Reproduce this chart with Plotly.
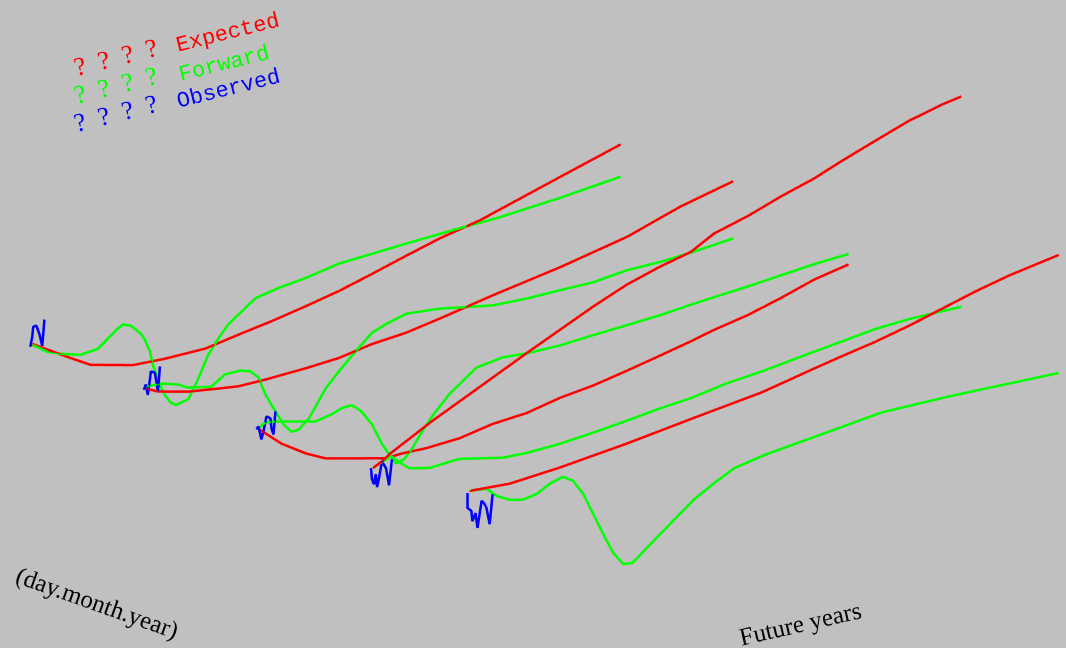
import plotly.graph_objects as go

# slice dates (position along the date axis, in years) and their labels
slice_dates = ["31.12.1999", "31.12.2000", "31.12.2001", "31.12.2002", "08.11.2003"]
slice_pos = [0.0, 1.0, 2.0, 3.0, 3.85]

# slice 1
exp_t1 = [0, 1.79, 2.97, 5.13, 6.72, 8.82, 10.51, 12.21, 13.95, 15.64, 17.33, 19.08, 20.77, 22.82, 26.92, 30.0]
exp_r1 = [4.95, 4.41, 4.07, 3.80, 3.76, 3.76, 3.90, 4.03, 4.19, 4.36, 4.58, 4.82, 5.04, 5.24, 5.82, 6.25]
fwd_t1 = [0, 0.77, 1.44, 2.46, 3.33, 3.85, 4.36, 4.62, 5.03, 5.54, 5.74, 6.0, 6.15, 6.41, 6.67, 7.03,
          7.33, 7.95, 8.46, 8.97, 9.49, 10.0, 11.38, 12.56, 13.95, 15.64, 17.33, 19.08, 21.79, 23.69, 26.92, 30.0]
fwd_r1 = [4.93, 4.66, 4.53, 4.38, 4.42, 4.61, 4.80, 4.87, 4.79, 4.53, 4.36, 4.03, 3.68, 3.30, 2.94, 2.65,
          2.54, 2.61, 3.05, 3.59, 3.93, 4.22, 4.70, 4.81, 4.89, 5.04, 5.08, 5.12, 5.17, 5.19, 5.30, 5.45]
obs_t1 = [-0.10, 0.0, 0.05, 0.21, 0.36, 0.51, 0.62]
obs_r1 = [4.89, 5.13, 5.37, 5.38, 5.16, 4.84, 5.48]

# slice 2
exp_t2 = [0, 0.62, 2.15, 3.69, 4.72, 6.10, 8.15, 9.85, 11.54, 13.28, 14.97, 17.69, 21.13, 24.56, 26.10, 27.28, 29.95]
exp_r2 = [4.83, 4.68, 4.49, 4.38, 4.31, 4.31, 4.34, 4.39, 4.53, 4.60, 4.74, 4.99, 5.27, 5.61, 5.85, 6.03, 6.33]
fwd_t2 = [0, 0.77, 1.64, 2.15, 3.33, 4.05, 4.82, 5.33, 5.74, 6.10, 6.62, 7.03, 7.44, 7.79, 8.31, 9.18,
          9.85, 10.72, 11.54, 12.26, 13.28, 14.97, 17.69, 19.44, 21.13, 22.82, 24.56, 26.26, 27.79, 29.95]
fwd_r2 = [4.88, 4.86, 4.73, 4.59, 4.47, 4.69, 4.69, 4.61, 4.41, 3.94, 3.45, 3.08, 2.85, 2.86, 3.07, 3.72,
          4.06, 4.46, 4.81, 4.94, 5.07, 4.99, 4.74, 4.70, 4.70, 4.69, 4.78, 4.78, 4.82, 4.91]
obs_t2 = [-0.10, 0.0, 0.10, 0.21, 0.26, 0.46, 0.62, 0.72]
obs_r2 = [4.81, 4.93, 4.66, 5.03, 5.22, 5.17, 4.68, 5.29]

# slice 3
exp_t3 = [0, 1.13, 2.36, 3.38, 6.46, 7.28, 8.51, 10.21, 11.90, 13.64, 15.33, 17.03, 18.77, 20.46, 22.0,
          23.18, 24.92, 26.62, 28.31, 30.05]
exp_r3 = [4.80, 4.31, 3.92, 3.67, 3.30, 3.32, 3.30, 3.34, 3.49, 3.55, 3.72, 3.82, 3.98, 4.15, 4.31,
          4.45, 4.61, 4.83, 5.08, 5.24]
fwd_t3 = [0, 0.31, 0.82, 2.87, 3.69, 4.21, 4.72, 5.18, 5.74, 6.26, 6.62, 6.97, 7.38, 7.79, 8.31, 8.82,
          9.69, 11.08, 12.41, 13.64, 15.33, 17.03, 18.77, 20.46, 22.0, 24.92, 28.31, 30.05]
fwd_r3 = [4.85, 4.94, 4.90, 4.65, 4.73, 4.82, 4.83, 4.63, 4.23, 3.67, 3.38, 3.11, 3.16, 3.38, 3.75, 4.06,
          4.50, 4.99, 5.08, 5.03, 5.02, 5.07, 5.11, 5.15, 5.22, 5.32, 5.46, 5.50]
obs_t3 = [-0.15, -0.05, 0.05, 0.10, 0.21, 0.36, 0.56, 0.62, 0.72, 0.82]
obs_r3 = [4.82, 4.88, 4.67, 4.54, 4.73, 5.08, 5.01, 4.75, 4.59, 5.15]

# slice 4
exp_t4 = [0, 0.46, 0.92, 3.03, 4.92, 7.85, 9.54, 11.23, 12.97, 14.67, 16.21, 17.38, 19.13, 20.82, 22.51,
          23.90, 25.59, 27.33, 29.03, 30.0]
exp_r4 = [4.83, 4.94, 5.09, 5.63, 6.06, 6.73, 7.10, 7.47, 7.81, 8.05, 8.22, 8.53, 8.76, 9.04, 9.28,
          9.54, 9.83, 10.12, 10.32, 10.40]
fwd_t4 = [0, 0.92, 1.49, 1.85, 2.87, 4.41, 6.62, 7.85, 9.54, 11.23, 12.97, 14.67, 16.21, 18.10, 19.79,
          21.85, 23.90, 25.59, 27.33, 28.87, 30.0]
fwd_r4 = [4.83, 5.01, 4.75, 4.60, 4.48, 4.52, 4.28, 4.25, 4.27, 4.34, 4.43, 4.53, 4.59, 4.74, 4.81,
          4.94, 5.06, 5.16, 5.20, 5.19, 5.18]
obs_t4 = [-0.10, -0.05, 0.05, 0.15, 0.21, 0.31, 0.46, 0.67, 0.82, 0.97]
obs_r4 = [4.84, 4.56, 4.42, 4.66, 4.33, 4.54, 4.94, 4.74, 4.30, 4.93]

# slice 5
exp_t5 = [0, 0.87, 2.05, 4.62, 8.05, 11.44, 14.87, 15.90, 17.59, 18.97, 20.67, 22.41, 24.10, 25.79, 27.54, 30.05]
exp_r5 = [5.10, 5.07, 5.03, 5.12, 5.30, 5.52, 5.73, 5.83, 6.00, 6.13, 6.28, 6.47, 6.69, 6.91, 7.10, 7.30]
fwd_t5 = [0, 0.87, 1.38, 2.05, 2.72, 3.44, 4.10, 4.77, 5.28, 5.79, 6.31, 6.82, 7.33, 7.85, 8.31, 9.74,
          11.44, 12.46, 13.49, 15.03, 17.59, 21.03, 24.46, 27.85, 30.05]
fwd_r5 = [5.10, 5.05, 4.81, 4.63, 4.55, 4.61, 4.78, 4.87, 4.71, 4.33, 3.76, 3.20, 2.67, 2.33, 2.30, 2.85,
          3.49, 3.77, 4.02, 4.16, 4.30, 4.49, 4.47, 4.41, 4.37]
obs_t5 = [-0.10, -0.10, 0.10, 0.15, 0.31, 0.41, 0.62, 0.77, 0.87, 1.03, 1.18]
obs_r5 = [5.06, 4.69, 4.59, 4.33, 4.51, 4.13, 4.78, 4.68, 4.57, 4.15, 4.88]

expected = [(exp_t1, exp_r1), (exp_t2, exp_r2), (exp_t3, exp_r3), (exp_t4, exp_r4), (exp_t5, exp_r5)]
forward = [(fwd_t1, fwd_r1), (fwd_t2, fwd_r2), (fwd_t3, fwd_r3), (fwd_t4, fwd_r4), (fwd_t5, fwd_r5)]
observed = [(obs_t1, obs_r1), (obs_t2, obs_r2), (obs_t3, obs_r3), (obs_t4, obs_r4), (obs_t5, obs_r5)]

RED = "#ff0000"
GREEN = "#00ff00"
BLUE = "#0000ff"
BG = "#c0c0c0"

fig = go.Figure()


def add_line(pos, t, r, color, name):
    fig.add_trace(
        go.Scatter3d(
            x=[pos] * len(t),
            y=t,
            z=r,
            mode="lines",
            line=dict(color=color, width=5),
            name=name,
            showlegend=False,
            hoverinfo="skip"
        )
    )


for i, pos in enumerate(slice_pos):
    add_line(pos, expected[i][0], expected[i][1], RED, "Expected " + slice_dates[i])
    add_line(pos, forward[i][0], forward[i][1], GREEN, "Forward " + slice_dates[i])
    add_line(pos, observed[i][0], observed[i][1], BLUE, "Observed " + slice_dates[i])

hidden = dict(visible=False, showgrid=False, zeroline=False, showspikes=False)

# view direction chosen so the years axis climbs ~14 deg and the date axis falls ~19 deg
eye_dir = (0.730, -0.617, 0.296)
eye_len = 4.0
# orthographic zoom is set through the aspect ratio
zoom = 2.74

fig.update_layout(
    width=1066,
    height=648,
    margin=dict(l=0, r=0, t=0, b=0),
    paper_bgcolor=BG,
    plot_bgcolor=BG,
    showlegend=False,
    scene=dict(
        domain=dict(x=[0.0226, 1.0], y=[0.1034, 1.0]),
        bgcolor=BG,
        xaxis=dict(range=[-0.05, 3.9], **hidden),
        yaxis=dict(range=[-0.5, 30.5], **hidden),
        zaxis=dict(range=[2.0, 10.7], **hidden),
        aspectmode="manual",
        aspectratio=dict(x=0.873 * zoom, y=1.0 * zoom, z=0.461 * zoom),
        camera=dict(
            eye=dict(x=eye_dir[0] * eye_len, y=eye_dir[1] * eye_len, z=eye_dir[2] * eye_len),
            up=dict(x=0, y=0, z=1),
            center=dict(x=0, y=0, z=0),
            projection=dict(type="orthographic")
        )
    )
)

legend_rows = [("Expected", RED, 57, 33, 228), ("Forward", GREEN, 85, 64, 224), ("Observed", BLUE, 113, 90, 229)]
marks = "?\u00a0\u00a0?\u00a0\u00a0?\u00a0\u00a0?"
for label, color, qy, ly, lx in legend_rows:
    fig.add_annotation(
        x=115 / 1066, y=1 - qy / 648, xref="paper", yref="paper",
        xanchor="center", yanchor="middle",
        text=marks, showarrow=False, textangle=-14,
        font=dict(family="Liberation Serif", size=26, color=color)
    )
    fig.add_annotation(
        x=lx / 1066, y=1 - ly / 648, xref="paper", yref="paper",
        xanchor="center", yanchor="middle",
        text=label, showarrow=False, textangle=-14,
        font=dict(family="Liberation Mono", size=22, color=color)
    )

fig.add_annotation(
    x=97 / 1066, y=1 - 603 / 648, xref="paper", yref="paper",
    xanchor="center", yanchor="middle",
    text="(day.month.year)", showarrow=False, textangle=19.5,
    font=dict(family="Liberation Serif", size=25, color="black")
)
fig.add_annotation(
    x=800 / 1066, y=1 - 623 / 648, xref="paper", yref="paper",
    xanchor="center", yanchor="middle",
    text="Future years", showarrow=False, textangle=-13,
    font=dict(family="Liberation Serif", size=25, color="black")
)

fig.write_html(
    "out.html",
    config={"displayModeBar": False},
    post_script="document.body.style.margin = '0px';"
)
